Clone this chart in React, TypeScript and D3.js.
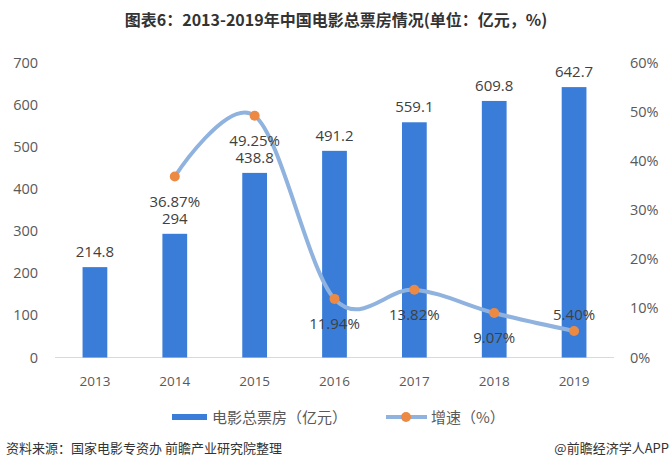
import React from "react";
import * as d3 from "d3";

const years = ["2013", "2014", "2015", "2016", "2017", "2018", "2019"];
const boxOffice = [214.8, 294, 438.8, 491.2, 559.1, 609.8, 642.7];
const growthYears = ["2014", "2015", "2016", "2017", "2018", "2019"];
const growth = [36.87, 49.25, 11.94, 13.82, 9.07, 5.4];
const growthLabels = ["36.87%", "49.25%", "11.94%", "13.82%", "9.07%", "5.40%"];
const growthLabelAbove = [false, false, false, false, false, true];
const leftTicks = [0, 100, 200, 300, 400, 500, 600, 700];
const rightTicks = [0, 10, 20, 30, 40, 50, 60];

const W = 672;
const H = 468;
const FONT = "'Open Sans', 'Noto Sans CJK SC', sans-serif";
const CJK = "'Noto Sans CJK SC', sans-serif";

export default function App() {
  const left = 55, right = 614, top = 63, bottom = 357.5;
  const x = d3.scaleBand<string>().domain(years).range([left, right]).paddingInner(0.69).paddingOuter(0.345);
  const yL = d3.scaleLinear().domain([0, 700]).range([bottom, top]);
  const yR = d3.scaleLinear().domain([0, 60]).range([bottom, top]);
  const cx = (yr: string) => (x(yr) as number) + x.bandwidth() / 2;

  const pts: [number, number][] = growthYears.map((yr, i) => [cx(yr), yR(growth[i])]);
  const line = d3.line().curve(d3.curveCardinal.tension(0))(pts) || "";

  const barColor = "#3a7dd8";
  const lineColor = "#8fb3de";
  const dotColor = "#ec8a44";
  const textColor = "#404040";
  const axisColor = "#595959";

  return (
    <svg width={W} height={H} style={{ position: "absolute", left: 0, top: 0, background: "#fff" }}>
      <rect x={0} y={0} width={W} height={H} fill="#fff" />
      <text x={336} y={26} textAnchor="middle" fontFamily={CJK} fontWeight="bold" fontSize={16} fill="#333">
        图表6：2013-2019年中国电影总票房情况(单位：亿元，%)
      </text>

      {leftTicks.map((t) => (
        <text key={"l" + t} x={38} y={yL(t) + 5} textAnchor="end" fontFamily={FONT} fontSize={14.5} fill={axisColor}>
          {t}
        </text>
      ))}
      {rightTicks.map((t) => (
        <text key={"r" + t} x={630} y={yR(t) + 5} textAnchor="start" fontFamily={FONT} fontSize={14.5} fill={axisColor}>
          {t + "%"}
        </text>
      ))}

      <line x1={left} x2={right} y1={bottom} y2={bottom} stroke="#d9d9d9" strokeWidth={1} />

      {years.map((yr, i) => (
        <g key={yr}>
          <rect x={x(yr)} y={yL(boxOffice[i])} width={x.bandwidth()} height={bottom - yL(boxOffice[i])} fill={barColor} />
          <text x={cx(yr)} y={yL(boxOffice[i]) - 10} textAnchor="middle" fontFamily={FONT} fontSize={15} fill={textColor}>
            {String(boxOffice[i])}
          </text>
          <text x={cx(yr)} y={386} textAnchor="middle" fontFamily={FONT} fontSize={13.5} fill={axisColor}>
            {yr}
          </text>
        </g>
      ))}

      <path d={line} fill="none" stroke={lineColor} strokeWidth={4} strokeLinecap="round" />
      {pts.map((p, i) => (
        <circle key={"d" + i} cx={p[0]} cy={p[1]} r={5} fill={dotColor} />
      ))}
      {pts.map((p, i) => (
        <text
          key={"g" + i}
          x={p[0]}
          y={growthLabelAbove[i] ? p[1] - 11 : p[1] + 30}
          textAnchor="middle"
          fontFamily={FONT}
          fontSize={15}
          fill={textColor}
        >
          {growthLabels[i]}
        </text>
      ))}

      {/* legend */}
      <rect x={172} y={414} width={35} height={6} fill={barColor} />
      <text x={212} y={423} fontFamily={CJK} fontSize={15} fill={axisColor}>电影总票房（亿元）</text>
      <line x1={386} x2={427} y1={417} y2={417} stroke={lineColor} strokeWidth={4} />
      <circle cx={406} cy={417} r={5} fill={dotColor} />
      <text x={431} y={423} fontFamily={CJK} fontSize={15} fill={axisColor}>增速（%）</text>

      {/* footer */}
      <text x={6} y={453} fontFamily={CJK} fontSize={13} fill="#333">资料来源：国家电影专资办 前瞻产业研究院整理</text>
      <text x={669} y={453} textAnchor="end" fontFamily={CJK} fontSize={13} fill="#333">@前瞻经济学人APP</text>
    </svg>
  );
}
